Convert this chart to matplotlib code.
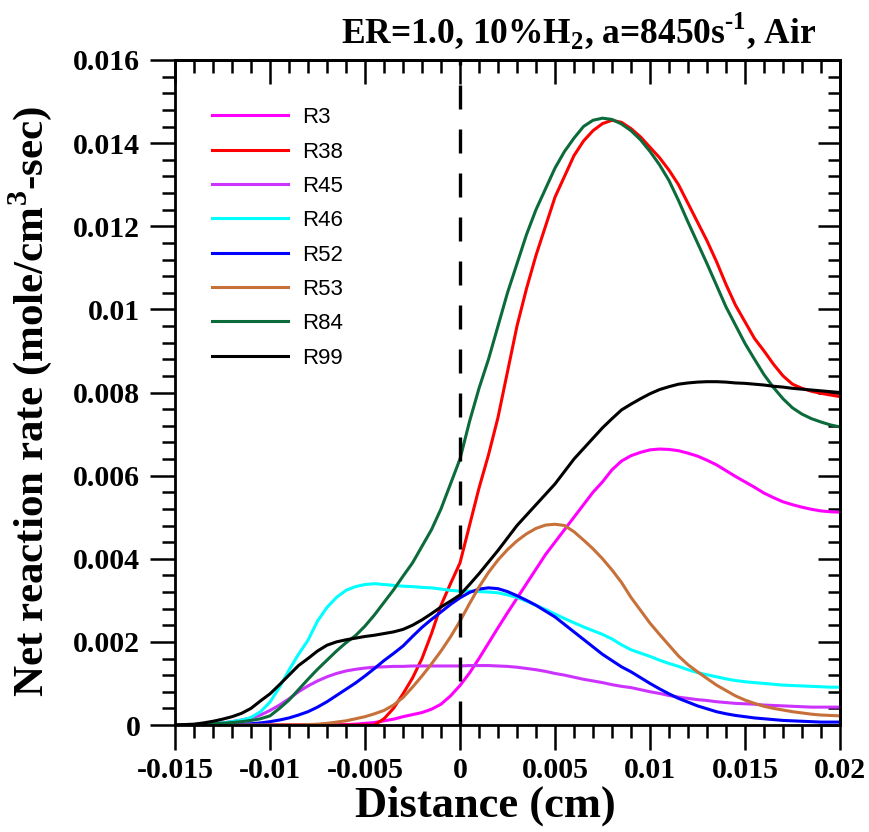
import matplotlib
matplotlib.use("Agg")
import matplotlib.pyplot as plt
from matplotlib.ticker import MultipleLocator, AutoMinorLocator, FuncFormatter, NullFormatter

plt.rcParams["axes.unicode_minus"] = False

# distance (cm)
distance = [-0.015, -0.0145, -0.014, -0.0135, -0.013, -0.0125, -0.012, -0.0115, -0.011, -0.0105,
            -0.010, -0.0095, -0.009, -0.0085, -0.008, -0.0075, -0.007, -0.0065, -0.006, -0.0055,
            -0.005, -0.0045, -0.004, -0.0035, -0.003, -0.0025, -0.002, -0.0015, -0.001, -0.0005,
            0.0, 0.0005, 0.001, 0.0015, 0.002, 0.0025, 0.003, 0.0035, 0.004, 0.0045,
            0.005, 0.0055, 0.006, 0.0065, 0.007, 0.0075, 0.008, 0.0085, 0.009, 0.0095,
            0.010, 0.0105, 0.011, 0.0115, 0.012, 0.0125, 0.013, 0.0135, 0.014, 0.0145,
            0.015, 0.0155, 0.016, 0.0165, 0.017, 0.0175, 0.018, 0.0185, 0.019, 0.0195,
            0.020]

# net reaction rates (mole/cm3-sec)
r3 = [0, 0, 0, 0, 0, 0, 0, 0, 0, 0,
      0, 0, 0, 0, 0, 0, 0, 0, 0.00001, 0.00002,
      0.00004, 0.00006, 0.0001, 0.00014, 0.0002, 0.00025, 0.0003, 0.00038, 0.0005, 0.0007,
      0.00095, 0.00125, 0.0016, 0.00197, 0.00234, 0.0027, 0.00305, 0.0034, 0.00375, 0.0041,
      0.0044, 0.0047, 0.005, 0.0053, 0.0056, 0.00585, 0.00614, 0.00635, 0.00648, 0.00656,
      0.00662, 0.00664, 0.00663, 0.0066, 0.00654, 0.00647, 0.00637, 0.00626, 0.00612, 0.00598,
      0.00585, 0.00572, 0.00558, 0.00547, 0.00537, 0.0053, 0.00524, 0.00519, 0.00515, 0.00513,
      0.00512]
r38 = [0, 0, 0, 0, 0, 0, 0, 0, 0, 0,
       0, 0, 0, 0, 0, 0, 0, 0, 0, 0,
       0, 0, 0.00015, 0.0004, 0.00075, 0.00113, 0.0016, 0.0022, 0.00288, 0.0034,
       0.0039, 0.0048, 0.0057, 0.0065, 0.0074, 0.0085, 0.0096, 0.0105, 0.0113, 0.012,
       0.0127, 0.0132, 0.0137, 0.01405, 0.0143, 0.01447, 0.01455, 0.0145, 0.01435, 0.01415,
       0.0139, 0.01365, 0.01335, 0.013, 0.01255, 0.0121, 0.01165, 0.01115, 0.0106, 0.0101,
       0.0097, 0.0093, 0.009, 0.00868, 0.0084, 0.0082, 0.0081, 0.00803, 0.00798, 0.00794,
       0.0079]
r45 = [0, 0, 0.00001, 0.00002, 0.00003, 0.00005, 0.00008, 0.00012, 0.00017, 0.00024,
       0.00035, 0.00048, 0.00063, 0.0008, 0.00094, 0.00106, 0.00116, 0.00124, 0.0013, 0.00134,
       0.00137, 0.00139, 0.0014, 0.00141, 0.00141, 0.00142, 0.00142, 0.00142, 0.00142, 0.00142,
       0.00142, 0.00143, 0.00143, 0.00143, 0.00142, 0.00141, 0.00139, 0.00136, 0.00133, 0.00129,
       0.00124, 0.0012, 0.00115, 0.0011, 0.00106, 0.00102, 0.00097, 0.00093, 0.0009, 0.00085,
       0.0008, 0.00076, 0.00071, 0.00067, 0.00064, 0.00061, 0.00059, 0.00056, 0.00054, 0.00052,
       0.00051, 0.0005, 0.00048, 0.00047, 0.00046, 0.00045, 0.00044, 0.00043, 0.00043, 0.00043,
       0.00043]
r46 = [0, 0, 0.00001, 0.00002, 0.00003, 0.00005, 0.00008, 0.00012, 0.00018, 0.00032,
       0.00055, 0.00091, 0.00132, 0.0017, 0.00204, 0.0025, 0.00283, 0.00307, 0.00324, 0.00333,
       0.00338, 0.0034, 0.00338, 0.00336, 0.00334, 0.00333, 0.00331, 0.0033, 0.00327, 0.00324,
       0.00322, 0.00322, 0.00321, 0.0032, 0.00318, 0.00313, 0.00307, 0.00298, 0.00288, 0.00278,
       0.00267, 0.00256, 0.00246, 0.00236, 0.00227, 0.00218, 0.00207, 0.00193, 0.00181, 0.00173,
       0.00165, 0.00156, 0.00148, 0.00141, 0.00133, 0.00126, 0.00121, 0.00116, 0.00111, 0.00107,
       0.00104, 0.00102, 0.001, 0.00098, 0.00096, 0.00095, 0.00094, 0.00093, 0.00092, 0.00091,
       0.00091]
r52 = [0, 0, 0, 0, 0, 0.00001, 0.00001, 0.00002, 0.00003, 0.00005,
       0.00008, 0.00012, 0.00017, 0.00024, 0.00032, 0.00043, 0.00056, 0.00071, 0.00086, 0.00101,
       0.00118, 0.00136, 0.00155, 0.00172, 0.0019, 0.00213, 0.00235, 0.00254, 0.00272, 0.0029,
       0.00306, 0.00319, 0.00327, 0.0033, 0.00328, 0.00321, 0.00311, 0.003, 0.00288, 0.00274,
       0.0026, 0.00242, 0.00224, 0.00206, 0.00188, 0.0017, 0.00155, 0.0014, 0.00128, 0.00114,
       0.001, 0.00087, 0.00075, 0.00064, 0.00055, 0.00046, 0.00039, 0.00032, 0.00027, 0.00023,
       0.0002, 0.00017, 0.00015, 0.00013, 0.00011, 0.0001, 0.00009, 0.00008, 0.00007, 0.00007,
       0.00007]
r53 = [0, 0, 0, 0, 0, 0, 0, 0, 0, 0,
       0, 0, 0, 0, 0.00001, 0.00002, 0.00004, 0.00007, 0.0001, 0.00015,
       0.0002, 0.00027, 0.00035, 0.00048, 0.00066, 0.00091, 0.00118, 0.00147, 0.00178, 0.00212,
       0.0025, 0.00292, 0.00332, 0.00367, 0.00397, 0.00422, 0.00443, 0.0046, 0.00473, 0.00481,
       0.00483, 0.0048, 0.00465, 0.00445, 0.00424, 0.004, 0.00373, 0.00343, 0.00307, 0.00276,
       0.00245, 0.00218, 0.00192, 0.00166, 0.00145, 0.00128, 0.00112, 0.00096, 0.00083, 0.0007,
       0.0006, 0.00052, 0.00045, 0.0004, 0.00036, 0.00032, 0.00029, 0.00026, 0.00024, 0.00023,
       0.00022]
r84 = [0, 0, 0.00001, 0.00002, 0.00003, 0.00004, 0.00006, 0.00008, 0.00011, 0.00015,
       0.00022, 0.0004, 0.0006, 0.00085, 0.0011, 0.00134, 0.00156, 0.00178, 0.00198, 0.00215,
       0.00238, 0.00265, 0.00295, 0.00325, 0.00358, 0.0039, 0.0043, 0.0047, 0.0052, 0.0058,
       0.0064, 0.0073, 0.0081, 0.0088, 0.0096, 0.0104, 0.0111, 0.0118, 0.0124, 0.0129,
       0.0134, 0.0138, 0.01412, 0.0144, 0.01455, 0.0146, 0.01457, 0.01446, 0.0143, 0.01408,
       0.0138, 0.01348, 0.0131, 0.01262, 0.0121, 0.0116, 0.0111, 0.01058, 0.01006, 0.00962,
       0.00918, 0.0088, 0.00843, 0.00812, 0.00785, 0.00763, 0.00748, 0.00737, 0.00729, 0.00722,
       0.00717]
r99 = [0, 0.00001, 0.00002, 0.00005, 0.00009, 0.00014, 0.0002, 0.00028, 0.0004, 0.00058,
       0.00075, 0.00097, 0.0012, 0.00143, 0.0016, 0.00178, 0.00192, 0.002, 0.00205, 0.00209,
       0.00213, 0.00216, 0.0022, 0.00224, 0.0023, 0.0024, 0.00253, 0.00268, 0.00284, 0.00298,
       0.00313, 0.00338, 0.00364, 0.00392, 0.0042, 0.0045, 0.0048, 0.00505, 0.0053, 0.00555,
       0.0058, 0.0061, 0.0064, 0.00665, 0.0069, 0.00715, 0.00737, 0.00758, 0.00772, 0.00785,
       0.00797, 0.00807, 0.00814, 0.0082, 0.00823, 0.00825, 0.00826, 0.00826, 0.00825, 0.00823,
       0.00822, 0.0082, 0.00818, 0.00815, 0.00813, 0.0081, 0.00808, 0.00806, 0.00804, 0.00802,
       0.008]

labels = ["R3", "R38", "R45", "R46", "R52", "R53", "R84", "R99"]
series = [r3, r38, r45, r46, r52, r53, r84, r99]
colors = ["#ff00ff", "#ff0000", "#cc33ff", "#00ffff", "#0000ff", "#c8703a", "#0b6b3a", "#000000"]

W, H = 869, 832
fig = plt.figure(figsize=(W / 100, H / 100), dpi=100)
ax = fig.add_axes([175 / W, 1 - 725 / H, 665 / W, 665 / H])

for lab, ys, c in zip(labels, series, colors):
    ax.plot(distance, ys, color=c, lw=2.2, label=lab)

ax.axvline(0, color="black", lw=2.4, linestyle=(0, (7.2, 6)))

ax.set_xlim(-0.015, 0.02)
ax.set_ylim(0, 0.016)

serif = "Liberation Serif"
fmt = FuncFormatter(lambda v, pos: f"{round(v, 4):g}")
ax.xaxis.set_major_locator(MultipleLocator(0.005))
ax.xaxis.set_minor_locator(AutoMinorLocator(5))
ax.yaxis.set_major_locator(MultipleLocator(0.002))
ax.yaxis.set_minor_locator(AutoMinorLocator(5))
ax.xaxis.set_major_formatter(fmt)
ax.yaxis.set_major_formatter(fmt)

for s in ax.spines.values():
    s.set_linewidth(2.0)

ax.tick_params(which="both", direction="out", width=1.8, top=False, right=False)
ax.tick_params(which="major", length=18)
ax.tick_params(which="minor", length=9.4)
ax.tick_params(axis="y", which="major", pad=7)
ax.tick_params(axis="x", which="major", pad=5)
for t in ax.get_xticklabels() + ax.get_yticklabels():
    t.set_fontfamily(serif)
    t.set_fontweight("bold")
    t.set_fontsize(21.5)

# top and right ticks point inward
secx = ax.secondary_xaxis("top")
secx.xaxis.set_major_locator(MultipleLocator(0.005))
secx.xaxis.set_minor_locator(AutoMinorLocator(5))
secx.xaxis.set_major_formatter(NullFormatter())
secx.tick_params(which="both", direction="in", width=1.8)
secx.tick_params(which="major", length=17)
secx.tick_params(which="minor", length=9.4)
secx.spines["top"].set_linewidth(2.0)

secy = ax.secondary_yaxis("right")
secy.yaxis.set_major_locator(MultipleLocator(0.002))
secy.yaxis.set_minor_locator(AutoMinorLocator(5))
secy.yaxis.set_major_formatter(NullFormatter())
secy.tick_params(which="both", direction="in", width=1.8)
secy.tick_params(which="major", length=16)
secy.tick_params(which="minor", length=9)
secy.spines["right"].set_linewidth(2.0)

ax.legend(loc="upper left", bbox_to_anchor=(0.0556, 0.929), frameon=False,
          borderpad=0, borderaxespad=0, handlelength=3.42, handletextpad=0.63,
          labelspacing=0.6, prop={"family": "Liberation Sans", "size": 16})

title = "ER=1.0, 10%H$_\\mathregular{2}$, a=8450s$^\\mathregular{\u20101}$, Air"
fig.text(579 / W, 1 - 31 / H, title,
         ha="center", va="center", fontfamily=serif, fontweight="bold", fontsize=25.5)
fig.text(485 / W, 1 - 806 / H, "Distance (cm)", ha="center", va="center",
         fontfamily=serif, fontweight="bold", fontsize=32)
fig.text(30 / W, 1 - 402 / H, r"Net reaction rate (mole/cm$^\mathregular{3}$-sec)",
         rotation=90, ha="center", va="center", fontfamily=serif, fontweight="bold", fontsize=31)

fig.savefig("out.png", dpi=100)
